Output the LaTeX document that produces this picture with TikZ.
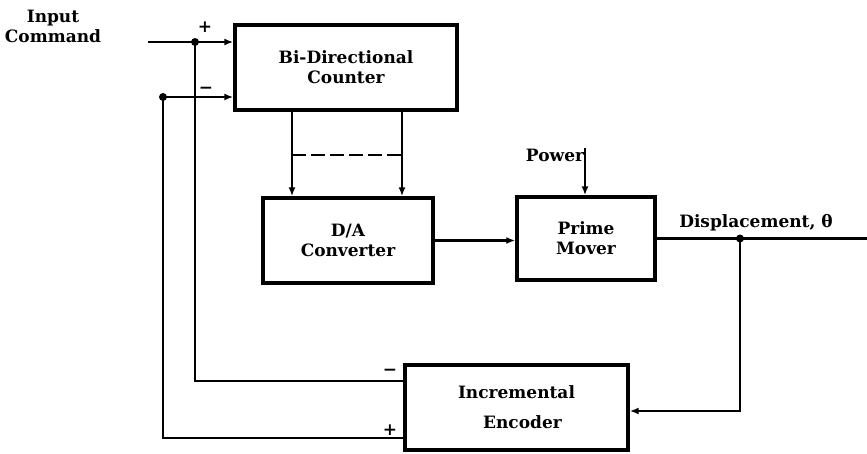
\documentclass[tikz,border=0pt]{standalone}
\usepackage{fontspec}
\setmainfont{DejaVu Serif}
\usepackage{tikz}
\usetikzlibrary{arrows.meta}

\begin{document}
\begin{tikzpicture}[x=1pt,y=-1pt,font=\bfseries\fontsize{17}{20}\selectfont,
  blk/.style={draw,line width=3.4pt,align=center,inner sep=2pt},
  ln/.style={line width=2.2pt},
  arr/.style={ln,-{Latex[length=9pt,width=7pt]}},
  dot/.style={circle,fill,inner sep=0pt,minimum size=8pt}]
\useasboundingbox (0,0) rectangle (867,453);
\node[blk,minimum width=222pt,minimum height=85pt] (cnt) at (346,67.5) {Bi-Directional\\Counter};
\node[blk,minimum width=170pt,minimum height=85pt] (da) at (348,240.5) {D/A\\Converter};
\node[blk,minimum width=138pt,minimum height=83pt] (pm) at (586,238.5) {Prime\\Mover};
\node[blk,minimum width=223pt,minimum height=85pt] (enc) at (516.5,407.5) {Incremental\\[10pt]\hspace{12pt}Encoder};
\node[align=center] (cmd) at (53,26) {Input\\Command};
\node (pw) at (555,155) {Power};
\node (dsp) at (756,223) {Displacement, θ};
\coordinate (in) at (148,42);
\coordinate (j1) at (195,42);
\coordinate (j2) at (163,97);
\coordinate (j3) at (740,238.5);
\coordinate (pwr) at (585,148);
\coordinate (out) at (867,238.5);
\draw[arr] (in) -- (in -| cnt.west);
\draw[ln] ([yshift=26.5pt]enc.west) -| (j1);
\draw[arr] ([yshift=-30.5pt]enc.west) -| (j2) -- (j2 -| cnt.west);
\foreach \dx in {-54,56}
  \draw[arr] ([xshift=\dx pt]cnt.south) -- ([xshift=\dx pt]cnt.south |- da.north);
\draw[line width=1.6pt,dash pattern=on 14pt off 5pt] ([xshift=-54pt,yshift=-43pt]cnt.south) -- ([xshift=56pt,yshift=-43pt]cnt.south);
\draw[arr] (da.east) -- (da.east -| pm.west);
\draw[arr] (pwr) -- (pwr |- pm.north);
\draw[ln] (pm.east) -- (out);
\draw[arr] (j3) |- ([yshift=-3.5pt]enc.east);
\node[dot] at (j1) {};
\node[dot] at (j2) {};
\node[dot] at (j3) {};
\node at (205,27) {+};
\node at (206,90) {−};
\node at (390,372) {−};
\node at (390,430) {+};
\end{tikzpicture}
\end{document}
